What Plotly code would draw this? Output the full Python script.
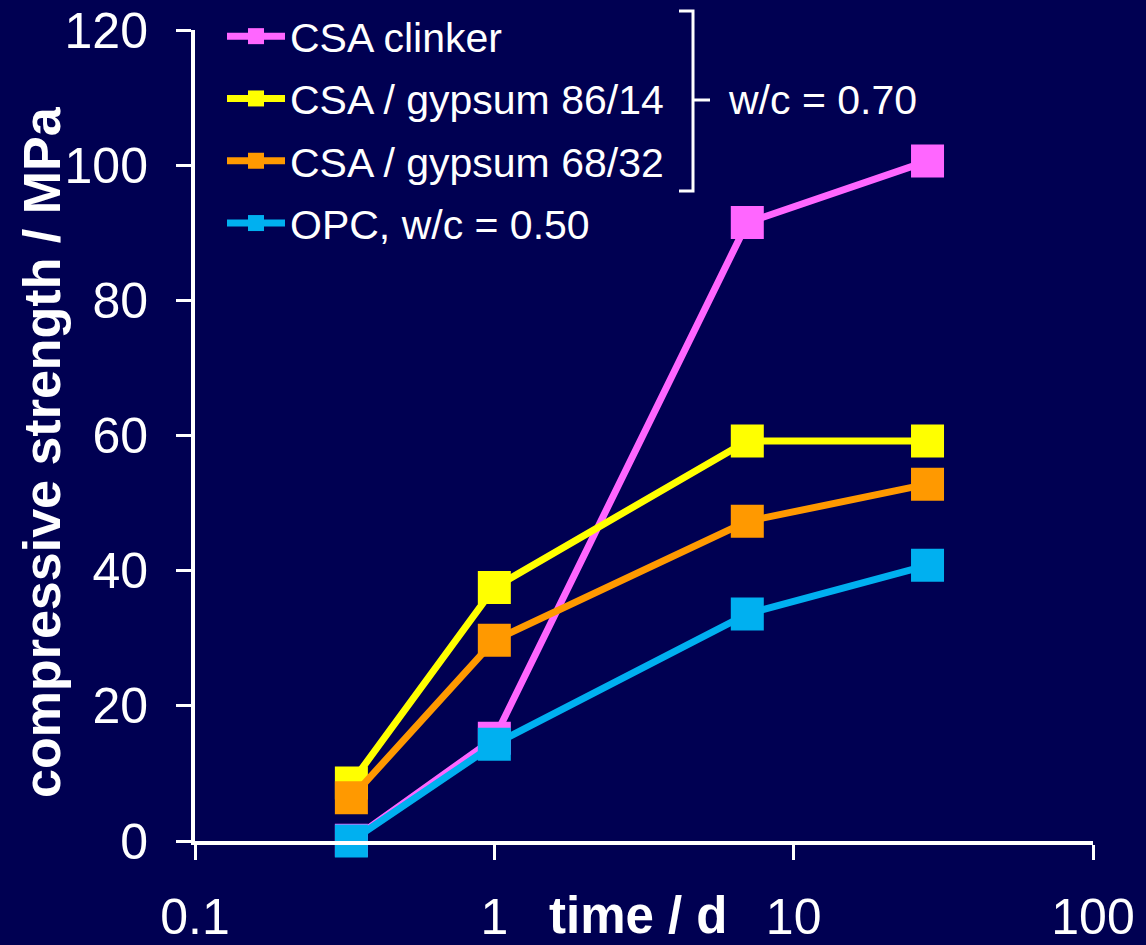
import plotly.graph_objects as go

time_d = [0.333, 1, 7, 28]
csa_clinker = [0.1, 15.2, 91.5, 100.6]
csa_gyp_86_14 = [8.6, 37.5, 59.2, 59.2]
csa_gyp_68_32 = [6.4, 29.7, 47.3, 52.8]
opc_050 = [0.0, 14.3, 33.6, 40.8]

series_names = ["CSA clinker", "CSA / gypsum 86/14", "CSA / gypsum 68/32", "OPC, w/c = 0.50"]
series_values = [csa_clinker, csa_gyp_86_14, csa_gyp_68_32, opc_050]
series_colors = ["#FF66FF", "#FFFF00", "#FF9900", "#00B0F0"]

x_tick_vals = [0.1, 1, 10, 100]
x_tick_text = ["0.1", "1", "10", "100"]
y_tick_vals = [0, 20, 40, 60, 80, 100, 120]

BG = "#000052"
FONT = "Liberation Sans, Arial, sans-serif"

fig = go.Figure()
for i, (name, vals, col) in enumerate(zip(series_names, series_values, series_colors)):
    fig.add_trace(go.Scatter(
        x=time_d, y=vals, name=name, mode="lines+markers",
        line=dict(color=col, width=7),
        marker=dict(symbol="square", size=33, color=col),
        legendgroup=f"g{i}",
        cliponaxis=False,
    ))

W, H = 1146, 945
L, R, T, B = 195, 53, 30, 104
pw, ph = W - L - R, H - T - B

def px(xp):
    return (xp - L) / pw

def py(yp):
    return (H - B - yp) / ph

fig.update_layout(
    width=W, height=H,
    margin=dict(l=L, r=R, t=T, b=B, pad=0, autoexpand=False),
    paper_bgcolor=BG, plot_bgcolor=BG,
    font=dict(family=FONT, color="white", size=41),
    showlegend=True,
    legend=dict(
        x=px(222), y=py(3), xanchor="left", yanchor="top",
        bgcolor="rgba(0,0,0,0)", font=dict(size=41, color="white"),
        traceorder="grouped", tracegroupgap=6, itemsizing="trace",
        itemwidth=58,
    ),
    xaxis=dict(
        type="log", range=[-1, 2], automargin=False,
        tickvals=x_tick_vals, ticktext=x_tick_text,
        showgrid=False, zeroline=False,
        showline=True, linecolor="white", linewidth=4,
        ticks="outside", ticklen=15, tickwidth=3, tickcolor="white",
        tickfont=dict(size=50, color="white"),
        ticklabelstandoff=14,
    ),
    yaxis=dict(
        range=[0, 120], tickvals=y_tick_vals, automargin=False,
        showgrid=False, zeroline=False,
        showline=True, linecolor="white", linewidth=4,
        ticks="outside", ticklen=15, tickwidth=3, tickcolor="white",
        tickfont=dict(size=50, color="white"),
        ticklabelstandoff=18,
    ),
)

fig.add_annotation(
    text="<b>compressive strength / MPa</b>", textangle=-90,
    xref="paper", yref="paper", x=px(42), y=py(452),
    showarrow=False, font=dict(size=52, color="white"),
    xanchor="center", yanchor="middle",
)
fig.add_annotation(
    text="<b>time / d</b>",
    xref="paper", yref="paper", x=px(638), y=py(915),
    showarrow=False, font=dict(size=51, color="white"),
    xanchor="center", yanchor="middle",
)
fig.add_annotation(
    text="w/c = 0.70",
    xref="paper", yref="paper", x=px(726), y=py(100),
    showarrow=False, font=dict(size=41, color="white"),
    xanchor="left", yanchor="middle",
)

# bracket
br = dict(color="white", width=3)
fig.add_shape(type="path", xref="paper", yref="paper",
              path=f"M {px(679)},{py(11)} L {px(693)},{py(11)} L {px(693)},{py(191)} L {px(679)},{py(191)}",
              line=br)
fig.add_shape(type="line", xref="paper", yref="paper",
              x0=px(693), x1=px(710), y0=py(100), y1=py(100), line=br)

fig.write_html("out.html")
